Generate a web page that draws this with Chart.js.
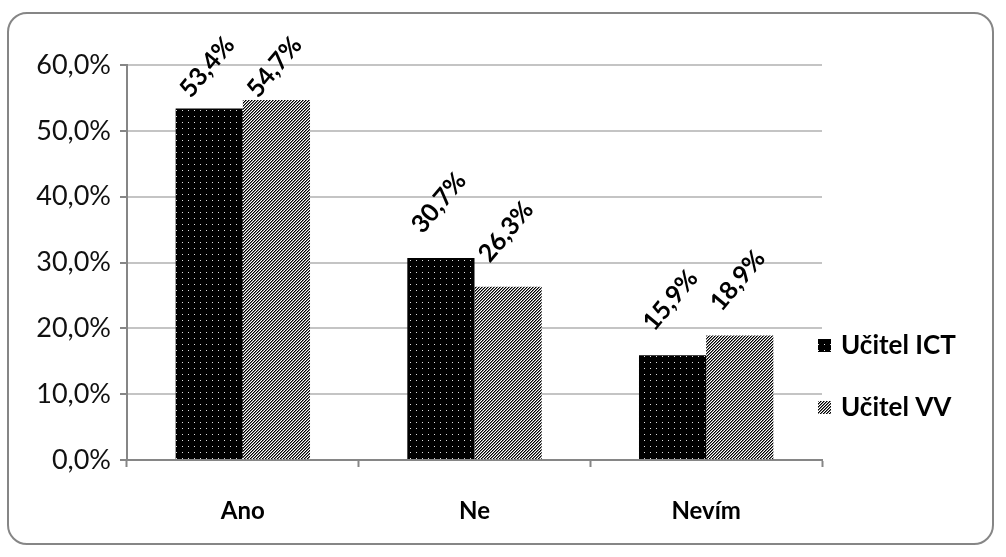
<!DOCTYPE html>
<html>
<head>
<meta charset="utf-8">
<script src="https://cdn.jsdelivr.net/npm/chart.js@4/dist/chart.umd.min.js"></script>
<style>
  html, body { margin: 0; padding: 0; background: #fff; }
  #wrap { position: relative; width: 1006px; height: 557px; }
  #frame { position: absolute; left: 7px; top: 12px; width: 987px; height: 533px;
           border: 2.5px solid #868686; border-radius: 20px; box-sizing: border-box; }
  canvas { position: absolute; left: 0; top: 0; }
</style>
</head>
<body>
<div id="wrap">
  <div id="frame"></div>
  <canvas id="c" width="1006" height="557"></canvas>
</div>
<script>
// Answer categories and shares (%) for the two teacher groups
const categories = ['Ano', 'Ne', 'Nevím'];
const seriesNames = ['Učitel ICT', 'Učitel VV'];
const ictValues = [53.4, 30.7, 15.9];
const vvValues = [54.7, 26.3, 18.9];
const yTicks = [0, 10, 20, 30, 40, 50, 60];

const FONT = 'Lato, "Open Sans", sans-serif';

function fmt(v) { return v.toFixed(1).replace('.', ',') + '%'; }

// Dotted fill: black with a light dot grid
function dotPattern() {
  const p = document.createElement('canvas');
  p.width = 6; p.height = 6;
  const g = p.getContext('2d');
  g.fillStyle = '#000'; g.fillRect(0, 0, 6, 6);
  g.fillStyle = '#e0e0e0'; g.fillRect(2, 2, 1, 1);
  return g.createPattern(p, 'repeat');
}
// Diagonal hatch fill
function hatchPattern() {
  const p = document.createElement('canvas');
  p.width = 3; p.height = 3;
  const g = p.getContext('2d');
  const shades = ['#000', '#777', '#fff'];
  for (let y = 0; y < 3; y++) {
    for (let x = 0; x < 3; x++) {
      g.fillStyle = shades[(x + y) % 3];
      g.fillRect(x, y, 1, 1);
    }
  }
  return g.createPattern(p, 'repeat');
}

const ctx = document.getElementById('c').getContext('2d');
const fills = [dotPattern(), hatchPattern()];

// Rotated value labels above each bar
const valueLabels = {
  id: 'valueLabels',
  afterDatasetsDraw(chart) {
    const c = chart.ctx;
    c.save();
    c.font = 'bold 25px ' + FONT;
    c.fillStyle = '#000';
    c.textAlign = 'center';
    c.textBaseline = 'middle';
    chart.data.datasets.forEach((ds, di) => {
      chart.getDatasetMeta(di).data.forEach((bar, i) => {
        const cy = Math.max(bar.y - 55, 67);
        c.save();
        c.translate(bar.x - 2, cy);
        c.rotate(-50 * Math.PI / 180);
        c.fillText(fmt(ds.data[i]), 0, 0);
        c.restore();
      });
    });
    c.restore();
  }
};

// Series key on the right
const sideLegend = {
  id: 'sideLegend',
  afterDraw(chart) {
    const c = chart.ctx;
    c.save();
    c.font = 'bold 26px ' + FONT;
    c.textBaseline = 'middle';
    c.textAlign = 'left';
    const ys = [345, 407];
    chart.data.datasets.forEach((ds, di) => {
      c.fillStyle = ds.backgroundColor;
      c.fillRect(818, ys[di] - 6, 13, 13);
      c.fillStyle = '#000';
      c.fillText(ds.label, 841, ys[di] + 1);
    });
    c.restore();
  }
};

new Chart(ctx, {
  type: 'bar',
  data: {
    labels: categories,
    datasets: [
      { label: seriesNames[0], data: ictValues, backgroundColor: fills[0], borderWidth: 0 },
      { label: seriesNames[1], data: vvValues, backgroundColor: fills[1], borderWidth: 0 }
    ]
  },
  options: {
    responsive: false,
    animation: false,
    devicePixelRatio: 1,
    layout: { padding: { left: 20, top: 65, right: 184, bottom: 33 } },
    datasets: { bar: { categoryPercentage: 0.58, barPercentage: 1 } },
    plugins: { legend: { display: false }, tooltip: { enabled: false } },
    scales: {
      x: {
        offset: true,
        grid: { offset: true, drawOnChartArea: false, drawTicks: true, tickLength: 7,
                tickColor: '#868686', tickWidth: 2 },
        border: { color: '#868686', width: 2 },
        ticks: { color: '#000', font: { family: FONT, size: 24, weight: 'bold' }, padding: 30 },
        afterFit(s) { s.height = 64; }
      },
      y: {
        min: 0, max: 60,
        afterBuildTicks(s) { s.ticks = yTicks.map(v => ({ value: v })); },
        grid: { color: '#c4c4c4', lineWidth: 2, drawTicks: true, tickLength: 7,
                tickColor: '#868686', tickWidth: 2 },
        border: { color: '#868686', width: 2 },
        ticks: { color: '#111', font: { family: FONT, size: 27 }, padding: 9,
                 callback: v => fmt(v) },
        afterFit(s) { s.width = 107; }
      }
    }
  },
  plugins: [valueLabels, sideLegend]
});
</script>
</body>
</html>
